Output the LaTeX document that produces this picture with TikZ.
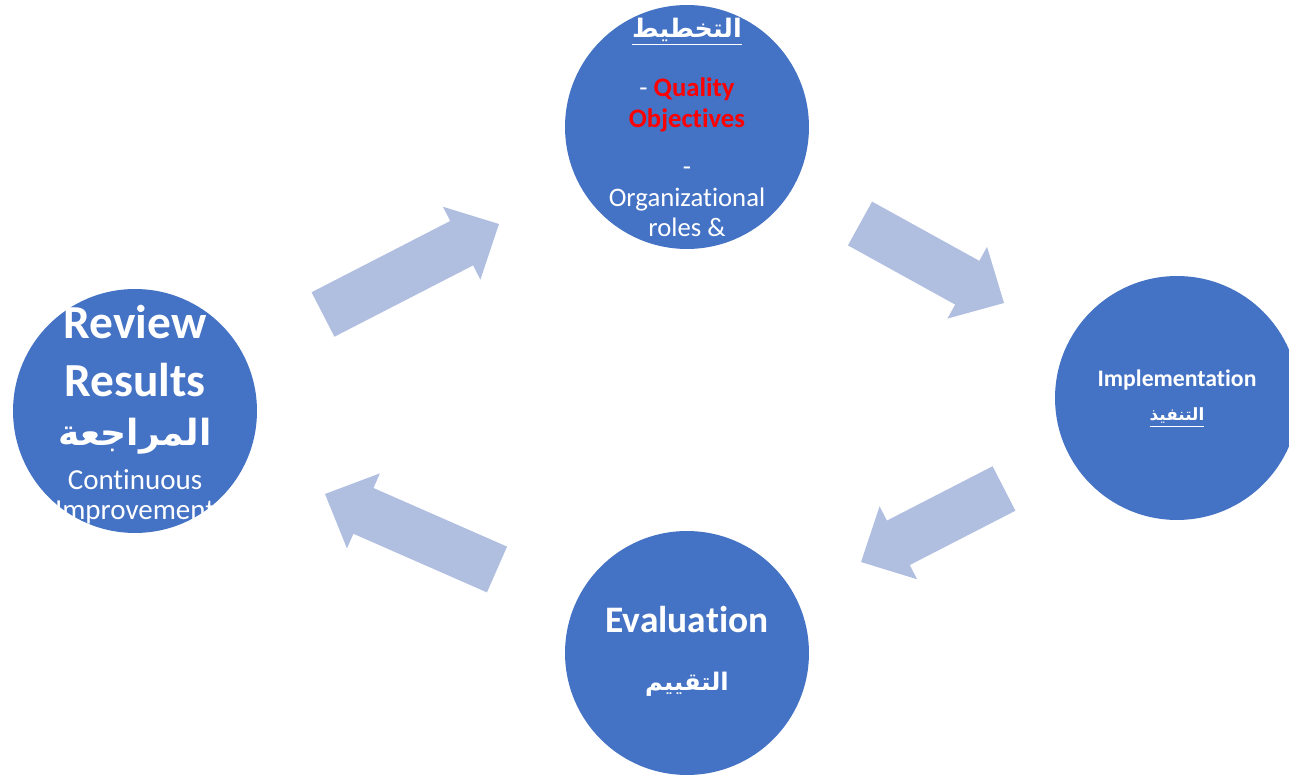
\documentclass[tikz,border=0pt]{standalone}
\usepackage{fontspec}
\setmainfont{Carlito}[Ligatures=NoCommon]
\newfontfamily\arabicfont[Script=Arabic]{DejaVu Sans}
\TeXXeTstate=1
\usetikzlibrary{calc,positioning}
\definecolor{stageblue}{RGB}{68,114,196}
\definecolor{flowblue}{RGB}{176,190,224}
\tikzset{stage/.style={circle,fill=stageblue,minimum size=4.88cm,inner sep=0pt},
  flow/.style={fill=flowblue},
  txt/.style={text=white,inner sep=0pt,anchor=base},
  body/.style={txt,font=\fontsize{15.2}{18}\selectfont},
  big/.style={txt,font=\fontsize{27}{32}\selectfont\bfseries}}
% block arrow from tail (#1) to tip (#2)
\newcommand{\blockarrow}[2]{%
  \coordinate (h) at ($(#2)!0.84cm!(#1)$);
  \fill[flow] ($(#1)!0.5cm!90:(#2)$) -- ($(h)!0.5cm!90:(#2)$) -- ($(h)!0.82cm!90:(#2)$)
    -- (#2) -- ($(h)!0.82cm!-90:(#2)$) -- ($(h)!0.5cm!-90:(#2)$) -- ($(#1)!0.5cm!-90:(#2)$) -- cycle;}
\begin{document}
\begin{tikzpicture}[x=0.02cm,y=-0.02cm]
\useasboundingbox (0,0) rectangle (1289,776);

\node[stage] (plan) at (687,127) {};
\node[stage] (impl) at (1177,398) {};
\node[stage] (eval) at (687,653) {};
\node[stage] (review) at (135,411) {};

% arrows
\coordinate (a1) at (323,314.5);  \coordinate (b1) at (499,224);
\coordinate (a2) at (860,223.5);  \coordinate (b2) at (1004,303);
\coordinate (a3) at (1004,488.5); \coordinate (b3) at (861,562);
\coordinate (a4) at (497,569.5);  \coordinate (b4) at (325,494);
\blockarrow{a1}{b1}
\blockarrow{a2}{b2}
\blockarrow{a3}{b3}
\blockarrow{a4}{b4}

% planning
\node[txt,font=\fontsize{14.5}{17}\selectfont\bfseries] (plan0) at (687,38) {\underline{\arabicfont\beginR التخطيط\endR}};
\node[body] (plan1) at (687,97) {- \textcolor{red}{\bfseries Quality}};
\node[body,text=red,font=\fontsize{15.2}{18}\selectfont\bfseries] (plan2) at (687,128) {Objectives};
\node[body] (plan3) at (687,176) {-};
\node[body] (plan4) at (687,207) {Organizational};
\node[body] (plan5) at (687,237) {roles \&};

% implementation
\node[txt,font=\fontsize{13.5}{16}\selectfont\bfseries] (impl1) at (1177,387) {Implementation};
\node[txt,font=\fontsize{9.6}{12}\selectfont\bfseries] (impl2) at (1177,421) {\underline{\arabicfont\beginR التنفيذ\endR}};

% evaluation
\node[txt,font=\fontsize{21.3}{25}\selectfont\bfseries] (eval1) at (687,633) {Evaluation};
\node[txt,font=\fontsize{13.8}{16}\selectfont\bfseries] (eval2) at (687,691) {\arabicfont\beginR التقييم\endR};

% review
\node[big] (rev1) at (135,339) {Review};
\node[big] (rev2) at (135,397) {Results};
\node[txt,font=\fontsize{20.5}{24}\selectfont\bfseries] (rev3) at (135,446) {\arabicfont\beginR المراجعة\endR};
\node[body,font=\fontsize{16.5}{20}\selectfont] (rev4) at (135,490) {Continuous};
\node[body,font=\fontsize{16.5}{20}\selectfont] (rev5) at (135,520) {Improvement};
\end{tikzpicture}
\end{document}
